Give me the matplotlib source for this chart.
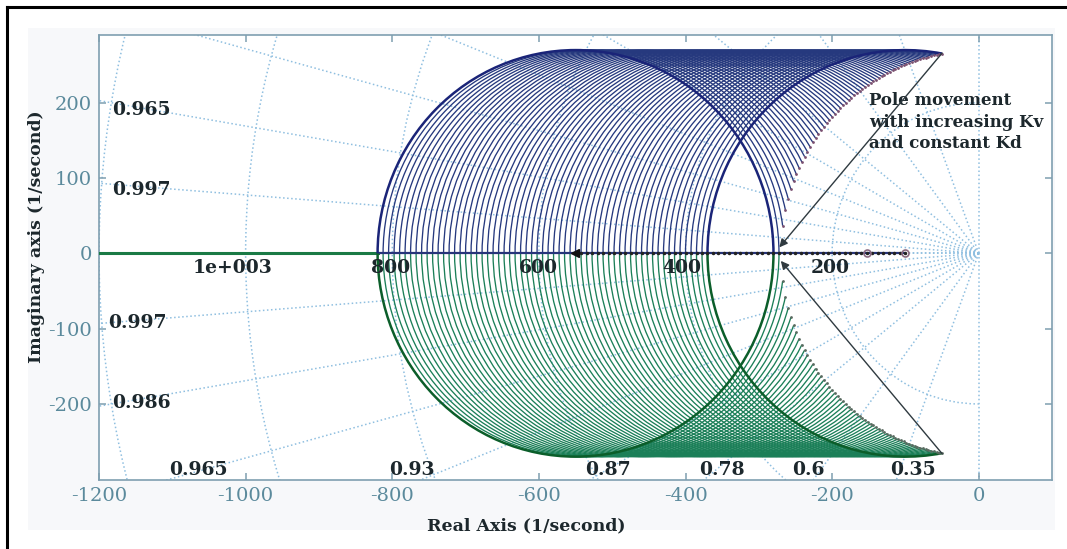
import numpy as np
import matplotlib
matplotlib.use("Agg")
import matplotlib.pyplot as plt
from matplotlib.patches import Arc, Rectangle
from matplotlib.lines import Line2D

plt.rcParams['axes.unicode_minus'] = False
plt.rcParams['font.family'] = ['DejaVu Serif']

# locus circles (centre on the real axis, common radius)
locus_centres = [-550, -542.5, -535, -527.5, -520, -512.5, -505, -497.5, -490, -482.5,
                 -475, -467.5, -460, -452.5, -445, -437.5, -430, -422.5, -415, -407.5,
                 -400, -392.5, -385, -377.5, -370, -362.5, -355, -347.5, -340, -332.5,
                 -325, -317.5, -310, -302.5, -295, -287.5, -280, -272.5, -265, -257.5,
                 -250, -242.5, -235, -227.5, -220, -212.5, -205, -197.5, -190, -182.5,
                 -175, -167.5, -160, -152.5, -145, -137.5, -130, -122.5, -115, -107.5,
                 -100]
locus_radius = 270
tip_ratio = 0.5          # end point real part = tip_ratio * centre

# sgrid
zetas = [0.35, 0.6, 0.78, 0.87, 0.93, 0.965, 0.986, 0.997]
wns = [200, 400, 600, 800, 1000, 1200]

zeta_labels_left = [("0.965", -1182, 190), ("0.997", -1182, 84),
                    ("0.997", -1187, -92), ("0.986", -1182, -199)]
zeta_labels_bottom = [("0.965", -1104), ("0.93", -804), ("0.87", -537),
                      ("0.78", -382), ("0.6", -255), ("0.35", -121)]
wn_labels = [("1e+003", -1018), ("800", -803), ("600", -601), ("400", -405), ("200", -203)]

xticks = [-1200, -1000, -800, -600, -400, -200, 0]
yticks = [-200, -100, 0, 100, 200]

upper_col = '#26397e'
lower_col = '#1b7f58'
grid_col = '#8fbfe0'
axis_col = '#7f9fb0'
tick_col = '#5b8a9c'
text_col = '#1c272c'

fig = plt.figure(figsize=(10.67, 5.49), dpi=100)
fig.patches.append(Rectangle((0.026, 0.035), 0.9625, 0.914, transform=fig.transFigure,
                             facecolor='#f7f8fa', edgecolor='none', zorder=-10))
fig.add_artist(Line2D([0.0066, 1.0], [0.987, 0.987], color='black', lw=2.2, transform=fig.transFigure))
fig.add_artist(Line2D([0.0066, 0.0066], [0.0, 0.987], color='black', lw=2.2, transform=fig.transFigure))

ax = fig.add_axes([0.0928, 0.1257, 0.8932, 0.8105])
ax.set_facecolor('white')
ax.set_xlim(-1200, 100)
ax.set_ylim(-301, 290)

# sgrid: damping lines and natural-frequency circles
R = 2000
for z in zetas + [0.0, 1.0]:
    ax.plot([0, -R * z], [0, R * np.sqrt(1 - z * z)], ':', color=grid_col, lw=1.1, zorder=1)
    ax.plot([0, -R * z], [0, -R * np.sqrt(1 - z * z)], ':', color=grid_col, lw=1.1, zorder=1)
for w in wns:
    ax.add_patch(Arc((0, 0), 2 * w, 2 * w, theta1=90, theta2=270, color=grid_col,
                     ls=':', lw=1.1, zorder=1))

# real-axis branch
ax.plot([-1200, -820], [0, 0], color='#1a7a45', lw=2.2, zorder=3)
ax.plot([-820, -100], [0, 0], color='#27347a', lw=1.6, zorder=3)

# loci
tips_x, tips_y = [], []
for i, c in enumerate(locus_centres):
    cosv = min(1.0, (tip_ratio * c - c) / locus_radius)
    th = np.degrees(np.arccos(cosv))
    edge = i == 0 or i == len(locus_centres) - 1
    lw = 1.8 if edge else 0.95
    cu = '#1a2478' if edge else upper_col
    cl = '#0b5e2a' if edge else lower_col
    ax.add_patch(Arc((c, 0), 2 * locus_radius, 2 * locus_radius, theta1=th, theta2=180,
                     color=cu, lw=lw, zorder=4 if edge else 2))
    ax.add_patch(Arc((c, 0), 2 * locus_radius, 2 * locus_radius, theta1=180, theta2=360 - th,
                     color=cl, lw=lw, zorder=4 if edge else 2))
    if 0 < th < 89:
        tips_x.append(c + locus_radius * np.cos(np.radians(th)))
        tips_y.append(locus_radius * np.sin(np.radians(th)))
ax.plot(tips_x, tips_y, 'o', ms=2, color='#7a5070', mec='none', zorder=5)
ax.plot(tips_x, [-t for t in tips_y], 'o', ms=2, color='#5a6a60', mec='none', zorder=5)

# zeros on the real axis
ax.plot(locus_centres, [0] * len(locus_centres), '.', ms=3, color='#222222', zorder=5)
ax.plot([-551], [0], marker='<', ms=6, color='#111111', zorder=6)
ax.plot([-100, -152], [0, 0], 'o', ms=5, mfc='none', mec='#8a6a80', mew=1.2, zorder=6)

# labels of the grid
for t, x, y in zeta_labels_left:
    ax.text(x, y, t, ha='left', va='center', fontsize=13.5, fontweight='bold', color=text_col, zorder=7)
for t, x in zeta_labels_bottom:
    ax.text(x, -300, t, ha='left', va='bottom', fontsize=13.5, fontweight='bold', color=text_col, zorder=7)
for t, x in wn_labels:
    ax.text(x, -20, t, ha='center', va='center', fontsize=13.5, fontweight='bold', color=text_col, zorder=7)

# annotation
ax.text(-150, 214, "Pole movement\nwith increasing Kv\nand constant Kd", ha='left', va='top',
        fontsize=12, fontweight='bold', color=text_col, linespacing=1.35, zorder=7)
arrow = dict(arrowstyle='-|>', color='#2f3a40', lw=1.0, mutation_scale=12, shrinkA=0, shrinkB=0)
ax.annotate('', xy=(-272, 8), xytext=(-50, 266), arrowprops=arrow, zorder=7)
ax.annotate('', xy=(-270, -10), xytext=(-50, -266), arrowprops=arrow, zorder=7)

# axes styling
ax.set_xticks(xticks)
ax.set_yticks(yticks)
ax.tick_params(direction='in', length=5, width=1.1, color=axis_col, labelcolor=tick_col,
               labelsize=14, top=True, right=True, pad=5)
for s in ax.spines.values():
    s.set_color(axis_col)
    s.set_linewidth(1.2)
ax.set_xlabel("Real Axis (1/second)", fontsize=12.5, fontweight='bold', color=text_col)
ax.set_ylabel("Imaginary axis (1/second)", fontsize=12.5, fontweight='bold', color=text_col)
ax.xaxis.set_label_coords(0.448, -0.083)
ax.yaxis.set_label_coords(-0.057, 0.546)

fig.savefig("out.png", dpi=100)
